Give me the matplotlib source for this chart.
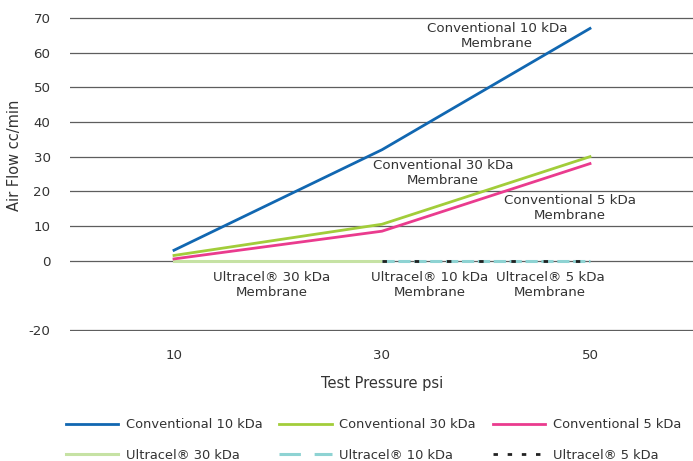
import numpy as np
import matplotlib.pyplot as plt
from matplotlib.lines import Line2D

# ----- dados -----
pressoes = ["10", "30", "50"]
conv_10 = [3, 32, 67]
conv_30 = [1.5, 10.5, 30]
conv_5 = [0.5, 8.5, 28]
ultra_30 = [0, 0, np.nan]
ultra_10 = [np.nan, 0, 0]
ultra_5 = [np.nan, 0, 0]

y_ticks = [-20, 0, 10, 20, 30, 40, 50, 60, 70]

c_azul = "#1167b1"
c_verde = "#a2cd3a"
c_rosa = "#ea3b8e"
c_verde_claro = "#c6e2a4"
c_ciano = "#8ed3d3"
c_preto = "#222222"
c_texto = "#333333"

plt.rcParams["font.family"] = "DejaVu Sans"
plt.rcParams["font.size"] = 9.6
plt.rcParams["axes.unicode_minus"] = False

fig = plt.figure(figsize=(6.93, 4.61), dpi=100)
ax = fig.add_axes([70 / 693, 1 - 331 / 461, 624 / 693, 314 / 461])

x = np.arange(len(pressoes))

for yv in y_ticks:
    ax.axhline(yv, color="#5e5e5e", lw=0.9, zorder=1)

ax.plot(x, ultra_30, color=c_verde_claro, lw=2.2, zorder=2)
ax.plot(x, ultra_10, color=c_ciano, lw=2.2, dashes=(4, 1.2), zorder=3)
ax.plot(x, ultra_5, color=c_preto, lw=2.0, dashes=(1.6, 10.0), zorder=4)
ax.plot(x, conv_10, color=c_azul, lw=2.0, zorder=5)
ax.plot(x, conv_30, color=c_verde, lw=2.0, zorder=5)
ax.plot(x, conv_5, color=c_rosa, lw=2.0, zorder=5)

ax.set_xlim(-0.5, 2.5)
ax.set_ylim(-20.3, 70.3)
ax.set_xticks(x)
ax.set_xticklabels(pressoes)
ax.set_yticks(y_ticks)
ax.tick_params(axis="both", length=0, colors=c_texto, labelsize=9.6)
ax.tick_params(axis="y", pad=14)
ax.tick_params(axis="x", pad=13)
for s in ax.spines.values():
    s.set_visible(False)

fig.text(15 / 693, 1 - 155 / 461, "Air Flow cc/min", rotation=90,
         ha="center", va="center", fontsize=10.5, color=c_texto)
ax.set_xlabel("Test Pressure psi", fontsize=10.5, color=c_texto, labelpad=10)

# rótulos das curvas
txt = dict(ha="center", va="center", fontsize=9.6, color=c_texto, linespacing=1.2)
fig.text(497 / 693, 1 - 36 / 461, "Conventional 10 kDa\nMembrane", **txt)
fig.text(443 / 693, 1 - 173 / 461, "Conventional 30 kDa\nMembrane", **txt)
fig.text(570 / 693, 1 - 208 / 461, "Conventional 5 kDa\nMembrane", **txt)
fig.text(272 / 693, 1 - 285 / 461, "Ultracel® 30 kDa\nMembrane", **txt)
fig.text(430 / 693, 1 - 285 / 461, "Ultracel® 10 kDa\nMembrane", **txt)
fig.text(550 / 693, 1 - 285 / 461, "Ultracel® 5 kDa\nMembrane", **txt)

# legenda
handles = [
    Line2D([], [], color=c_azul, lw=2.0),
    Line2D([], [], color=c_verde_claro, lw=2.2),
    Line2D([], [], color=c_verde, lw=2.0),
    Line2D([], [], color=c_ciano, lw=2.2, dashes=(7, 4.5)),
    Line2D([], [], color=c_rosa, lw=2.0),
    Line2D([], [], color=c_preto, lw=2.0, dashes=(1.6, 3.5)),
]
labels = [
    "Conventional 10 kDa", "Ultracel® 30 kDa",
    "Conventional 30 kDa", "Ultracel® 10 kDa",
    "Conventional 5 kDa", "Ultracel® 5 kDa",
]
fig.legend(
    handles, labels, ncol=3, frameon=False,
    loc="center left", bbox_to_anchor=(54 / 693, 1 - 440 / 461),
    handlelength=4.0, handletextpad=0.6, columnspacing=1.3,
    labelspacing=1.35, fontsize=9.4, labelcolor=c_texto,
)

fig.savefig("out.png", dpi=100)
